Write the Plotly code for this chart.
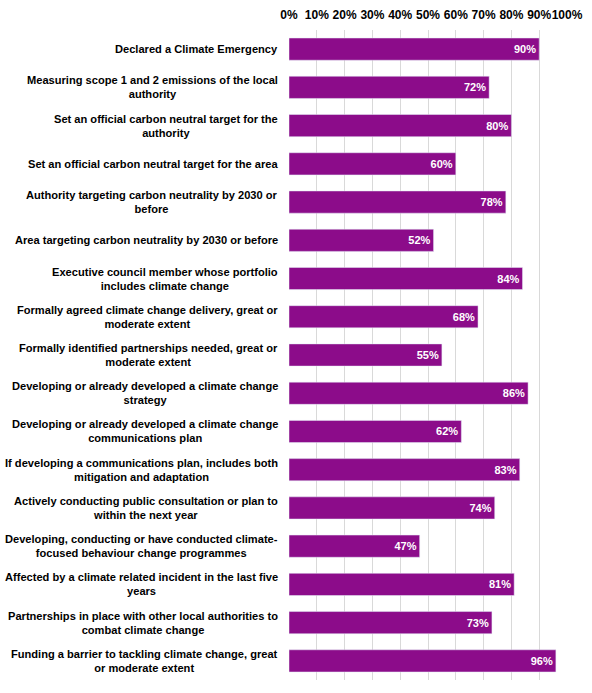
import plotly.graph_objects as go

categories = [
    "Declared a Climate Emergency",
    "Measuring scope 1 and 2 emissions of the local<br>authority",
    "Set an official carbon neutral target for the<br>authority",
    "Set an official carbon neutral target for the area",
    "Authority targeting carbon neutrality by 2030 or<br>before",
    "Area targeting carbon neutrality by 2030 or before",
    "Executive council member whose portfolio<br>includes climate change",
    "Formally agreed climate change delivery, great or<br>moderate extent",
    "Formally identified partnerships needed, great or<br>moderate extent",
    "Developing or already developed a climate change<br>strategy",
    "Developing or already developed a climate change<br>communications plan",
    "If developing a communications plan, includes both<br>mitigation and adaptation",
    "Actively conducting public consultation or plan to<br>within the next year",
    "Developing, conducting or have conducted climate-<br>focused behaviour change programmes",
    "Affected by a climate related incident in the last five<br>years",
    "Partnerships in place with other local authorities to<br>combat climate change",
    "Funding a barrier to tackling climate change, great<br>or moderate extent",
]
values = [90, 72, 80, 60, 78, 52, 84, 68, 55, 86, 62, 83, 74, 47, 81, 73, 96]
tick_values = [0, 10, 20, 30, 40, 50, 60, 70, 80, 90, 100]

FONT = "Liberation Sans, Arial"

fig = go.Figure(
    go.Bar(
        x=values,
        y=categories,
        orientation="h",
        marker_color="#8C0C8A",
        width=0.58,
        text=[f"{v}%" for v in values],
        textposition="inside",
        insidetextanchor="end",
        textfont=dict(family=FONT, size=11, color="white", weight="bold"),
    )
)

# category labels as annotations so two-line labels centre on their bar
for cat in categories:
    fig.add_annotation(
        x=0, xref="paper", xanchor="right", xshift=-9,
        y=cat, yref="y", yanchor="middle",
        text=cat, align="center", showarrow=False,
        font=dict(family=FONT, size=11.1, color="black", weight="bold"),
    )

fig.update_layout(
    width=592,
    height=693,
    margin=dict(l=289, r=25, t=30, b=13),
    plot_bgcolor="white",
    paper_bgcolor="white",
    showlegend=False,
    font=dict(family=FONT, color="black"),
)
fig.update_xaxes(
    side="top",
    range=[0, 100],
    tickvals=tick_values,
    ticktext=[f"{t}%" for t in tick_values],
    tickfont=dict(size=12, weight="bold"),
    tickangle=0,
    ticklabelstandoff=8,
    showgrid=True,
    gridcolor="#D9D9D9",
    zeroline=False,
    ticks="",
    automargin=False,
)
fig.update_yaxes(
    autorange="reversed",
    showticklabels=False,
    ticks="",
    showgrid=False,
    automargin=False,
)

# drop the default page margin so the figure fills the window
fig.write_html(
    "out.html",
    config={"displayModeBar": False},
    post_script="document.body.style.margin = '0';",
)
